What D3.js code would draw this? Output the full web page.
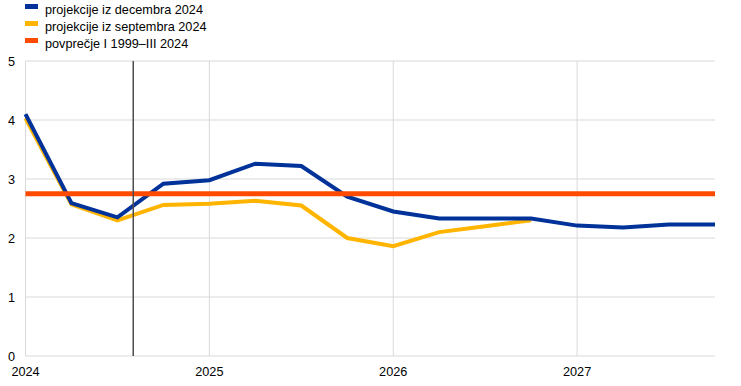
<!DOCTYPE html>
<html>
<head>
<meta charset="utf-8">
<script src="https://cdn.jsdelivr.net/npm/d3@7"></script>
<style>
  body { margin: 0; background: #fff; }
  svg { font-family: "Liberation Sans", Arial, sans-serif; }
</style>
</head>
<body>
<svg width="741" height="386"></svg>
<script>
"use strict";

// quarterly observations, 2024 Q1 .. 2027 Q4
const quarters = d3.range(16).map(i => 2024 + i * 0.25);
const decValues = [4.10, 2.59, 2.35, 2.92, 2.98, 3.26, 3.22, 2.70, 2.45, 2.33, 2.33, 2.33, 2.21, 2.18, 2.23, 2.23];
const sepValues = [4.03, 2.57, 2.30, 2.56, 2.58, 2.63, 2.55, 2.00, 1.86, 2.10, 2.20, 2.30];
const average = 2.75;
const cutOff = 2024.586;
const yearTicks = [2024, 2025, 2026, 2027];
const yTicks = [0, 1, 2, 3, 4, 5];
const legendLabels = ["projekcije iz decembra 2024", "projekcije iz septembra 2024", "povprečje I 1999–III 2024"];
const colors = ["#003299", "#ffb400", "#ff4b00"];

const svg = d3.select("svg");

const x = d3.scaleLinear().domain([2024, 2027.75]).range([25.5, 715]);
const y = d3.scaleLinear().domain([0, 5]).range([356, 61]);

// grid
svg.append("g")
  .selectAll("line")
  .data(yTicks.slice(1))
  .enter()
  .append("line")
  .attr("x1", x(2024)).attr("x2", x(2027.75))
  .attr("y1", d => y(d)).attr("y2", d => y(d))
  .style("stroke", "#d9d9d9");

svg.append("g")
  .selectAll("line")
  .data(yearTicks)
  .enter()
  .append("line")
  .attr("x1", d => x(d)).attr("x2", d => x(d))
  .attr("y1", y(0)).attr("y2", y(5))
  .style("stroke", "#d9d9d9");

// axis line
svg.append("line")
  .attr("x1", x(2024)).attr("x2", x(2027.75))
  .attr("y1", y(0)).attr("y2", y(0))
  .style("stroke", "#d9d9d9");

// tick labels
svg.append("g")
  .selectAll("text")
  .data(yTicks)
  .enter()
  .append("text")
  .attr("x", 15)
  .attr("y", d => y(d) + 4.5)
  .attr("text-anchor", "end")
  .style("font-size", "12.7px")
  .text(d => d);

svg.append("g")
  .selectAll("text")
  .data(yearTicks)
  .enter()
  .append("text")
  .attr("x", d => x(d))
  .attr("y", 376)
  .attr("text-anchor", "middle")
  .style("font-size", "12.7px")
  .text(d => d);

const line = d3.line()
  .x(d => x(d[0]))
  .y(d => y(d[1]));

svg.append("path")
  .attr("d", line(sepValues.map((v, i) => [quarters[i], v])))
  .style("fill", "none")
  .style("stroke", colors[1])
  .style("stroke-width", 4);

svg.append("path")
  .attr("d", line(decValues.map((v, i) => [quarters[i], v])))
  .style("fill", "none")
  .style("stroke", colors[0])
  .style("stroke-width", 4);

svg.append("line")
  .attr("x1", x(2024)).attr("x2", x(2027.75))
  .attr("y1", y(average)).attr("y2", y(average))
  .style("stroke", colors[2])
  .style("stroke-width", 5);

svg.append("line")
  .attr("x1", x(cutOff)).attr("x2", x(cutOff))
  .attr("y1", y(0)).attr("y2", y(5))
  .style("stroke", "#4d4d4d")
  .style("stroke-width", 1.5);

// legend
const legend = svg.append("g")
  .selectAll("g")
  .data(legendLabels)
  .enter()
  .append("g")
  .attr("transform", (d, i) => `translate(0, ${i * 17})`);

legend.append("rect")
  .attr("x", 25).attr("y", 4)
  .attr("width", 13).attr("height", 5)
  .style("fill", (d, i) => colors[i]);

legend.append("text")
  .attr("x", 45).attr("y", 13.5)
  .style("font-size", "12.7px")
  .text(d => d);
</script>
</body>
</html>
